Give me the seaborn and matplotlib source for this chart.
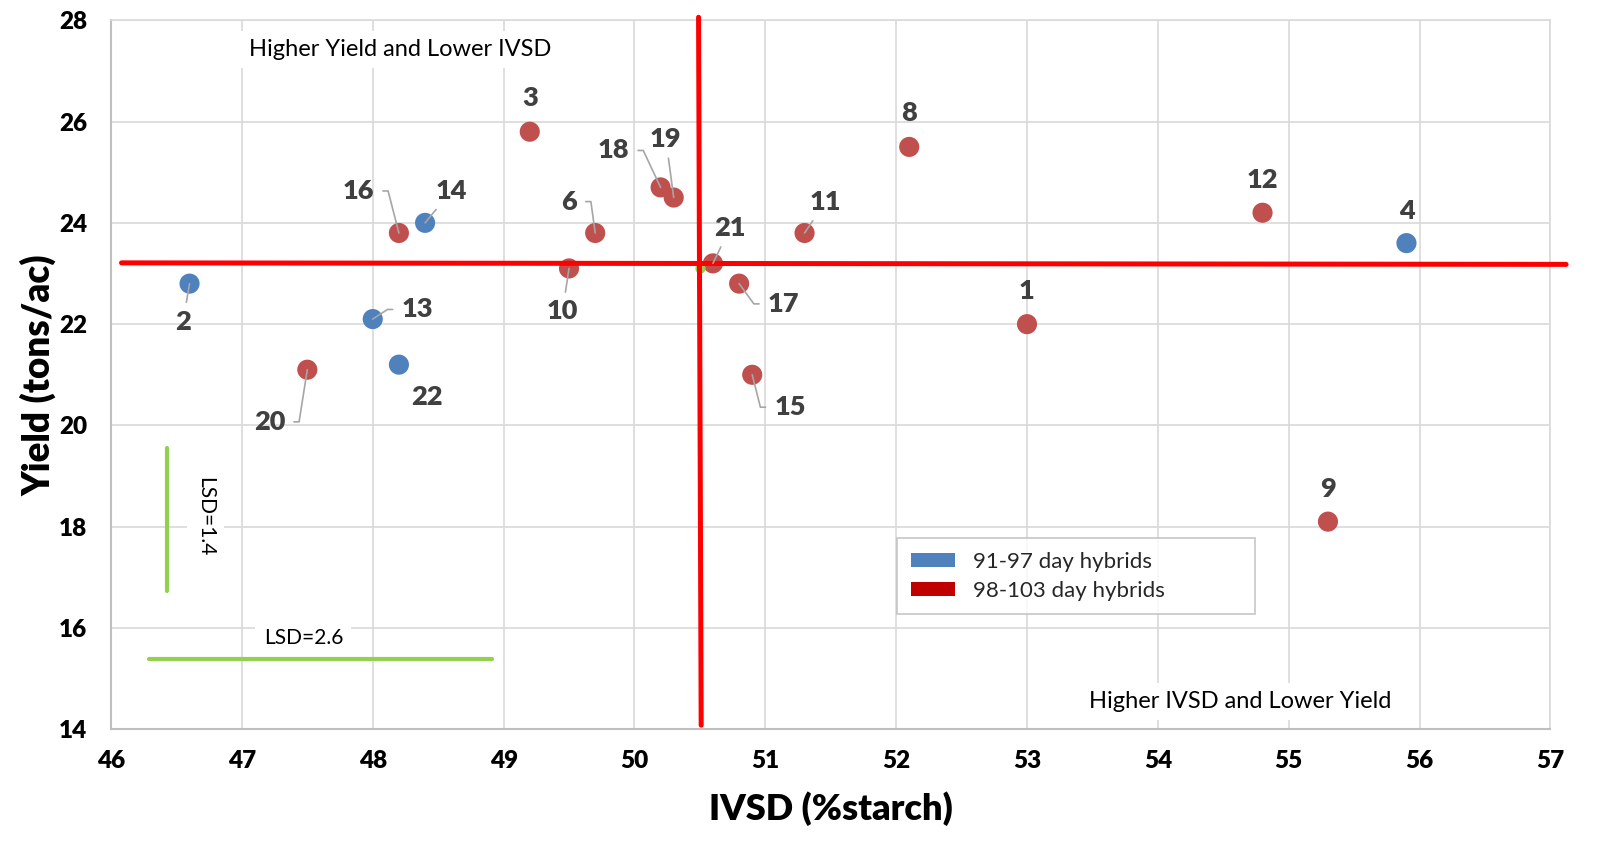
import matplotlib
matplotlib.use('Agg')
import matplotlib.pyplot as plt
from matplotlib.patches import Patch
import pandas as pd
import seaborn as sns

# hybrid number, IVSD (% starch), yield (tons/ac), maturity group
hybrids = ['1', '2', '3', '4', '6', '8', '9', '10', '11', '12',
           '13', '14', '15', '16', '17', '18', '19', '20', '21', '22']
ivsd = [53.0, 46.6, 49.2, 55.9, 49.7, 52.1, 55.3, 49.5, 51.3, 54.8,
        48.0, 48.4, 50.9, 48.2, 50.8, 50.2, 50.3, 47.5, 50.6, 48.2]
yld = [22.0, 22.8, 25.8, 23.6, 23.8, 25.5, 18.1, 23.1, 23.8, 24.2,
       22.1, 24.0, 21.0, 23.8, 22.8, 24.7, 24.5, 21.1, 23.2, 21.2]
early = '91-97 day hybrids'
late = '98-103 day hybrids'
group = [late, early, late, early, late, late, late, late, late, late,
         early, early, late, late, late, late, late, late, late, early]

# where each number label sits and how it is tied to its point
label_x = [53.0, 46.55, 49.2, 55.9, 49.5, 52.1, 55.3, 49.45, 51.46, 54.8,
           48.34, 48.6, 51.19, 47.89, 51.14, 49.84, 50.24, 47.21, 50.73, 48.41]
label_y = [22.65, 22.05, 26.46, 24.24, 24.42, 26.17, 18.75, 22.25, 24.41, 24.85,
           22.29, 24.63, 20.36, 24.63, 22.40, 25.43, 25.66, 20.07, 23.90, 20.57]
leader = ['none', 'line', 'none', 'none', 'right', 'none', 'none', 'line', 'line', 'none',
          'left', 'line', 'left', 'right', 'left', 'right', 'line', 'right', 'line', 'none']

# mean point and the red quadrant lines
mean_ivsd = [50.5]
mean_yld = [23.1]
vline_x = [50.49, 50.51]
vline_y = [28.06, 14.08]
hline_x = [46.08, 57.12]
hline_y = [23.21, 23.18]

# LSD bars
lsd_v_x = [46.43, 46.43]
lsd_v_y = [16.74, 19.56]
lsd_h_x = [46.29, 48.91]
lsd_h_y = [15.39, 15.39]

x_ticks = list(range(46, 58))
y_ticks = list(range(14, 29, 2))

df = pd.DataFrame({'hybrid': hybrids, 'ivsd': ivsd, 'yield': yld, 'group': group})

sns.set_theme(style='whitegrid')
plt.rcParams['font.family'] = ['Lato', 'DejaVu Sans']

fig, ax = plt.subplots(figsize=(16, 8.46), dpi=100)
fig.subplots_adjust(left=0.0694, right=0.969, top=0.976, bottom=0.138)

sns.scatterplot(data=df, x='ivsd', y='yield', hue='group',
                palette={early: '#4F81BD', late: '#C0504D'},
                s=210, edgecolor='none', legend=False, zorder=3, ax=ax)
ax.scatter(mean_ivsd, mean_yld, s=40, color='#92D050', zorder=3)

ax.plot(vline_x, vline_y, color='#FF0000', lw=3.6, zorder=4, clip_on=False)
ax.plot(hline_x, hline_y, color='#FF0000', lw=3.6, zorder=4, clip_on=False)
ax.plot(lsd_v_x, lsd_v_y, color='#92D050', lw=3, zorder=2)
ax.plot(lsd_h_x, lsd_h_y, color='#92D050', lw=3, zorder=2)

lead_col = '#A6A6A6'
for h, px, py, tx, ty, kind in zip(hybrids, ivsd, yld, label_x, label_y, leader):
    kw = dict(ha='center', va='center', fontsize=19.5, fontweight='heavy',
              color='#404040', zorder=5)
    if kind == 'none':
        ax.text(tx, ty, h, **kw)
        continue
    if kind == 'line':
        ap = dict(arrowstyle='-', color=lead_col, lw=1.2, shrinkA=3, shrinkB=0)
    elif kind == 'right':
        ap = dict(arrowstyle='-', color=lead_col, lw=1.2, shrinkA=4, shrinkB=0,
                  relpos=(1, 0.5),
                  connectionstyle='arc,angleA=0,armA=14,angleB=0,armB=0,rad=0')
    else:
        ap = dict(arrowstyle='-', color=lead_col, lw=1.2, shrinkA=4, shrinkB=0,
                  relpos=(0, 0.5),
                  connectionstyle='arc,angleA=180,armA=14,angleB=0,armB=0,rad=0')
    ap['zorder'] = 5
    ax.annotate(h, xy=(px, py), xytext=(tx, ty), textcoords='data',
                arrowprops=ap, **kw)

box = dict(facecolor='white', edgecolor='none', pad=6)
ax.text(48.21, 27.42, 'Higher Yield and Lower IVSD', ha='center', va='center',
        fontsize=17, color='black', bbox=box, zorder=3)
ax.text(54.63, 14.55, 'Higher IVSD and Lower Yield', ha='center', va='center',
        fontsize=17, color='black', bbox=box, zorder=3)
ax.text(47.47, 15.8, 'LSD=2.6', ha='center', va='center', fontsize=15,
        color='black', bbox=box, zorder=3)
ax.text(46.72, 18.2, 'LSD=1.4', ha='center', va='center', fontsize=15,
        color='black', rotation=270, bbox=box, zorder=3)

handles = [Patch(facecolor='#4F81BD', edgecolor='none', label=early),
           Patch(facecolor='#C00000', edgecolor='none', label=late)]
leg = ax.legend(handles=handles, loc='upper left',
                bbox_to_anchor=(52.01, 16.23, 2.73, 1.54),
                bbox_transform=ax.transData, mode='expand', borderaxespad=0,
                fontsize=16, frameon=True, fancybox=False, handlelength=2.0,
                handleheight=0.6, borderpad=0.6, labelspacing=0.4)
leg.get_frame().set_edgecolor('#BFBFBF')
leg.get_frame().set_linewidth(1.3)
leg.set_zorder(6)

ax.set_xlim(46, 57)
ax.set_ylim(14, 28)
ax.set_xticks(x_ticks, labels=[str(t) for t in x_ticks], fontsize=17.5,
              fontweight='heavy', color='black')
ax.set_yticks(y_ticks, labels=[str(t) for t in y_ticks], fontsize=17.5,
              fontweight='heavy', color='black')
ax.grid(True, color='#D9D9D9', lw=1.2)
ax.set_axisbelow(True)
for side in ['top', 'right']:
    ax.spines[side].set_color('#D9D9D9')
    ax.spines[side].set_linewidth(1.2)
for side in ['left', 'bottom']:
    ax.spines[side].set_color('#BFBFBF')
    ax.spines[side].set_linewidth(1.5)

ax.tick_params(axis='both', length=0)
ax.tick_params(axis='x', pad=15)
ax.tick_params(axis='y', pad=17)

ax.set_xlabel('IVSD (%starch)', fontsize=26, fontweight='heavy', color='black', labelpad=14)
ax.set_ylabel('Yield (tons/ac)', fontsize=26.5, fontweight='heavy', color='black', labelpad=2)

plt.savefig('out.png', dpi=100)
